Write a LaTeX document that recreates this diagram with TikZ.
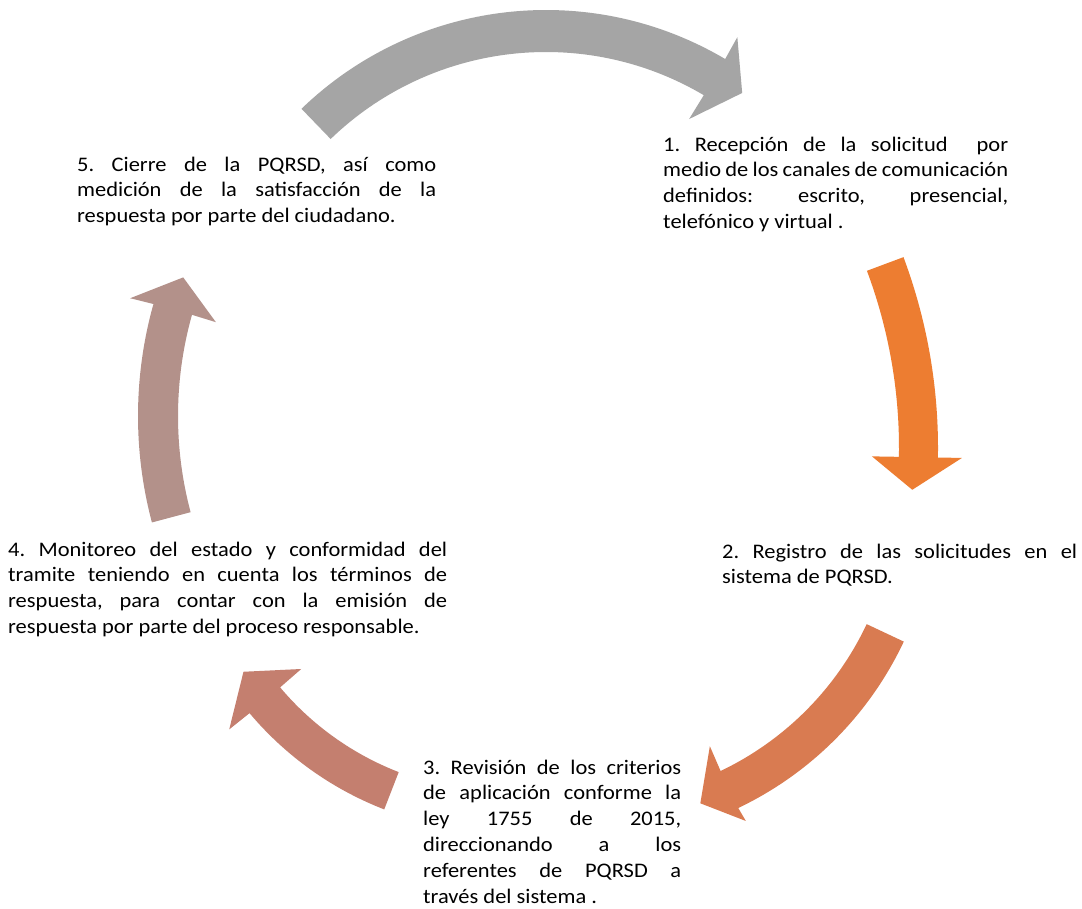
\documentclass[tikz,border=0pt]{standalone}
\usepackage{fontspec}
\setmainfont{Carlito}[FakeStretch=1.085]
\definecolor{arrA}{HTML}{A5A5A5}
\definecolor{arrB}{HTML}{ED7D31}
\definecolor{arrC}{HTML}{D97B51}
\definecolor{arrD}{HTML}{C47F6F}
\definecolor{arrE}{HTML}{B3918A}
\newcommand{\cyclarrow}[9]{%
  % #1 center, #2 ri, #3 ro, #4 tail angle, #5 end angle, #6 barb angle, #7 barb inner r, #8 barb outer r, #9 tip (angle:r)
  \begin{scope}[shift={#1}]
    \fill (#4:#3) arc[start angle=#4, end angle=#5, radius=#3]
      -- (#6:#8) -- (#9) -- (#6:#7) -- (#5:#2)
      arc[start angle=#5, end angle=#4, radius=#2] -- cycle;
  \end{scope}}
\tikzset{
  stepnote/.style={anchor=base west, inner sep=0pt, font=\fontsize{20.7}{25.8}\selectfont},
}
\newcommand{\jbox}[2]{\parbox[t]{#1}{\frenchspacing\hyphenpenalty=10000\exhyphenpenalty=10000 #2}}
\begin{document}
\begin{tikzpicture}[x=1pt,y=1pt]
\useasboundingbox (0,0) rectangle (1082,-908);
\fill[white] (0,0) rectangle (1082,-908);
% arrows
\begin{scope}[fill=arrA]
\cyclarrow{(546,-362)}{310}{352}{134}{59.4}{59.5}{282}{377}{53.9:333}
\end{scope}
\begin{scope}[fill=arrB]
\cyclarrow{(393,-448)}{506}{545}{20.5}{-1.0}{-1.0}{479}{569}{-4.6:521}
\end{scope}
\begin{scope}[fill=arrC]
\cyclarrow{(588,-493)}{308}{349}{-25.2}{-64.5}{-64.3}{281}{364}{-70.1:330}
\end{scope}
\begin{scope}[fill=arrD]
\cyclarrow{(505,-498)}{294}{334}{248.8}{220.1}{220}{266}{360}{213.6:314}
\end{scope}
\begin{scope}[fill=arrE]
\cyclarrow{(552,-416)}{374}{414}{194.9}{164.3}{164.4}{349}{438}{159.4:394}
\end{scope}
% texts
\node[stepnote] (t1) at (663,-151) {\jbox{345pt}{1. Recepción de la solicitud\ \ por\linebreak medio de los canales de comunicación\linebreak definidos: escrito, presencial,\linebreak telefónico y virtual .}};
\node[stepnote] (t2) at (722,-558) {\jbox{355pt}{2. Registro de las solicitudes en el\linebreak sistema de PQRSD.}};
\node[stepnote] (t3) at (423,-774) {\jbox{258pt}{3. Revisión de los criterios\linebreak de aplicación conforme la\linebreak ley 1755 de 2015,\linebreak direccionando a los\linebreak referentes de PQRSD a\linebreak través del sistema .}};
\node[stepnote] (t4) at (8,-556) {\jbox{439pt}{4. Monitoreo del estado y conformidad del\linebreak tramite teniendo en cuenta los términos de\linebreak respuesta, para contar con la emisión de\linebreak respuesta por parte del proceso responsable.}};
\node[stepnote] (t5) at (77,-171) {\jbox{359pt}{5. Cierre de la PQRSD, así como\linebreak medición de la satisfacción de la\linebreak respuesta por parte del ciudadano.}};
\end{tikzpicture}
\end{document}
